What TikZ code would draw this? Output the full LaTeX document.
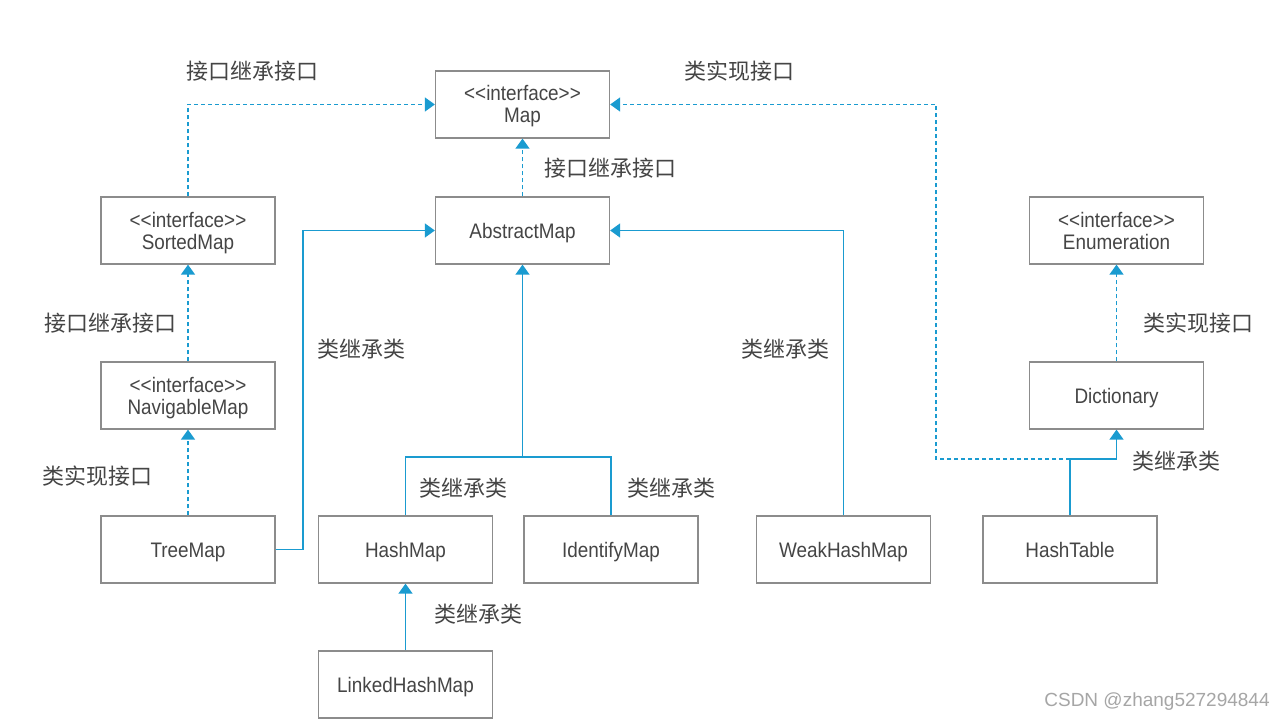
\documentclass[tikz,border=0pt]{standalone}
\usepackage{fontspec}
\setmainfont[FakeStretch=0.9]{Liberation Sans}
\newfontfamily\cjk{Noto Sans CJK SC}
\newfontfamily\wmfont{Liberation Sans}
\usetikzlibrary{arrows.meta}
\definecolor{lnblue}{HTML}{1A9BD0}
\definecolor{bxgray}{HTML}{8C8C8C}
\definecolor{txgray}{HTML}{454545}
\begin{document}
\begin{tikzpicture}[x=1pt,y=-1pt,
  cls/.style={draw=bxgray,line width=1.3pt,minimum width=174pt,minimum height=67pt,inner sep=0pt,
    align=center,text=txgray,font=\fontsize{21}{22}\selectfont,text height=16pt,text depth=0pt},
  ifc/.style={cls,text height=37pt,text depth=0pt},
  lbl/.style={text=txgray,font=\cjk\fontsize{22}{24}\selectfont,inner sep=0pt},
  conn/.style={draw=lnblue,line width=1.4pt},
  dsh/.style={conn,dash pattern=on 4pt off 3pt},
  tip/.style={-{Triangle[length=10pt,width=14pt]}},
]
\useasboundingbox[fill=white] (0,0) rectangle (1287,722);

\node[ifc] (map) at (522.5,104.5) {<{}<interface>{}>\\Map};
\node[cls] (am) at (522.5,230.5) {AbstractMap};
\node[ifc] (sm) at (188,230.5) {<{}<interface>{}>\\SortedMap};
\node[ifc] (nm) at (188,395.5) {<{}<interface>{}>\\NavigableMap};
\node[cls] (tm) at (188,549.5) {TreeMap};
\node[cls] (hm) at (405.5,549.5) {HashMap};
\node[cls] (im) at (611,549.5) {IdentifyMap};
\node[cls] (whm) at (843.5,549.5) {WeakHashMap};
\node[cls] (ht) at (1070,549.5) {HashTable};
\node[ifc] (en) at (1116.5,230.5) {<{}<interface>{}>\\Enumeration};
\node[cls] (dic) at (1116.5,395.5) {Dictionary};
\node[cls] (lhm) at (405.5,684.5) {LinkedHashMap};

% coordinates
\coordinate (tmr) at (303,549.5);
\coordinate (jh) at (405.5,457);
\coordinate (jm) at (522.5,457);
\coordinate (ji) at (611,457);
\coordinate (jt) at (1070,459);
\coordinate (jd) at (1116.5,459);
\coordinate (jl) at (936,459);
\coordinate (jlt) at (936,104.5);

% interface inheritance / implementation (dashed)
\draw[dsh,tip] (sm.north) |- (map.west);
\draw[dsh,tip] (am.north) -- (map.south);
\draw[dsh,tip] (nm.north) -- (sm.south);
\draw[dsh,tip] (tm.north) -- (nm.south);
\draw[dsh,tip] (dic.north) -- (en.south);
\draw[dsh,tip] (jt) -- (jl) -- (jlt) -- (map.east);

% class inheritance (solid)
\draw[conn,tip] (tm.east) -- (tmr) |- (am.west);
\draw[conn] (hm.north) -- (jh) -- (ji) -- (im.north);
\draw[conn,tip] (jm) -- (am.south);
\draw[conn,tip] (whm.north) |- (am.east);
\draw[conn] (ht.north) -- (jt);
\draw[conn,tip] (jt) -- (jd) -- (dic.south);
\draw[conn,tip] (lhm.north) -- (hm.south);

% labels
\node[lbl] (l1) at (252.5,71) {接口继承接口};
\node[lbl] (l2) at (610,168) {接口继承接口};
\node[lbl] (l3) at (110,323) {接口继承接口};
\node[lbl] (l4) at (97.5,476) {类实现接口};
\node[lbl] (l5) at (361.5,349) {类继承类};
\node[lbl] (l6) at (463,488) {类继承类};
\node[lbl] (l7) at (671.5,488) {类继承类};
\node[lbl] (l8) at (785.5,349) {类继承类};
\node[lbl] (l9) at (739,71) {类实现接口};
\node[lbl] (l10) at (1198,323) {类实现接口};
\node[lbl] (l11) at (1176.5,461) {类继承类};
\node[lbl] (l12) at (478,614) {类继承类};

\node[text=black!35,font=\wmfont\fontsize{19}{22}\selectfont,inner sep=0pt] (wm) at (1157,702) {CSDN @zhang527294844};
\end{tikzpicture}
\end{document}
